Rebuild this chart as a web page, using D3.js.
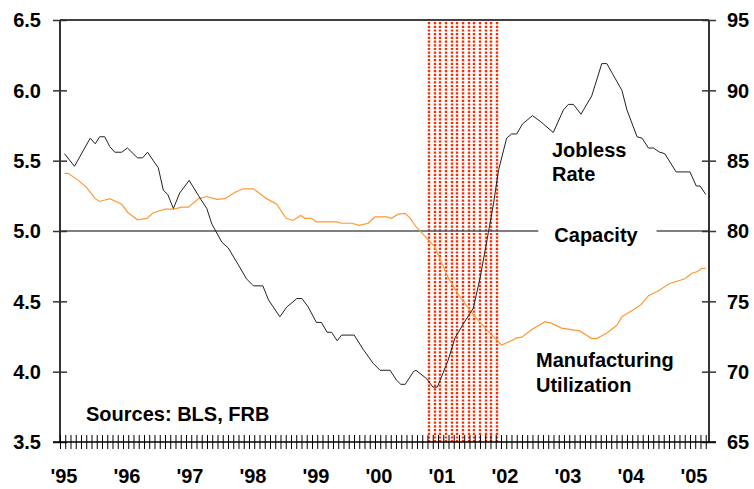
<!DOCTYPE html>
<html><head><meta charset="utf-8">
<script src="https://cdn.jsdelivr.net/npm/d3@7/dist/d3.min.js"></script>
<style>
body{margin:0;background:#fff}
text{font-family:"Liberation Sans",Arial,Helvetica,sans-serif;font-weight:bold;fill:#000}
</style>
</head><body>
<svg id="chart" width="754" height="489"></svg>
<script>
// ---- Data ----
const joblessYears = [1995.07,1995.23,1995.48,1995.56,1995.63,1995.71,1995.79,1995.87,1995.98,1996.07,1996.23,1996.31,1996.39,1996.48,1996.56,1996.64,1996.71,1996.80,1996.90,1997.05,1997.20,1997.33,1997.41,1997.57,1997.67,1997.83,1997.96,1998.07,1998.22,1998.31,1998.49,1998.60,1998.76,1998.84,1998.94,1999.07,1999.15,1999.24,1999.31,1999.40,1999.47,1999.67,1999.81,1999.97,2000.08,2000.24,2000.34,2000.41,2000.48,2000.61,2000.65,2000.82,2000.92,2000.99,2001.16,2001.27,2001.43,2001.56,2001.67,2001.80,2001.88,2001.96,2002.09,2002.17,2002.25,2002.34,2002.50,2002.65,2002.83,2002.99,2003.07,2003.15,2003.27,2003.44,2003.60,2003.68,2003.78,2003.92,2004.00,2004.16,2004.24,2004.34,2004.42,2004.52,2004.60,2004.78,2005.00,2005.10,2005.16,2005.25];
const joblessRate = [5.55,5.46,5.66,5.62,5.67,5.67,5.60,5.56,5.56,5.59,5.52,5.52,5.56,5.50,5.45,5.29,5.26,5.16,5.27,5.36,5.25,5.16,5.05,4.92,4.88,4.76,4.66,4.61,4.61,4.51,4.39,4.46,4.52,4.52,4.46,4.35,4.35,4.28,4.28,4.22,4.26,4.26,4.16,4.06,4.01,4.01,3.94,3.91,3.91,4.00,4.01,3.95,3.89,3.89,4.08,4.24,4.36,4.45,4.67,4.99,5.19,5.43,5.66,5.69,5.69,5.76,5.82,5.77,5.70,5.86,5.90,5.90,5.83,5.96,6.19,6.19,6.11,6.00,5.86,5.67,5.66,5.59,5.59,5.56,5.55,5.42,5.42,5.32,5.32,5.26];

const utilYears = [1995.07,1995.13,1995.29,1995.42,1995.56,1995.63,1995.79,1995.98,1996.08,1996.23,1996.38,1996.48,1996.67,1996.81,1996.93,1997.04,1997.20,1997.33,1997.49,1997.62,1997.78,1997.91,1998.07,1998.28,1998.44,1998.59,1998.70,1998.82,1998.89,1998.99,1999.07,1999.39,1999.47,1999.63,1999.75,1999.89,2000.00,2000.19,2000.26,2000.37,2000.48,2000.56,2000.66,2000.82,2000.95,2001.16,2001.32,2001.56,2001.75,2002.01,2002.14,2002.25,2002.33,2002.49,2002.70,2002.80,2002.96,2003.25,2003.44,2003.52,2003.68,2003.84,2003.92,2004.10,2004.23,2004.34,2004.50,2004.67,2004.92,2005.03,2005.11,2005.19,2005.25];
const mfgUtilization = [84.1,84.1,83.6,83.1,82.3,82.1,82.3,81.9,81.3,80.8,80.9,81.3,81.55,81.55,81.7,81.7,82.3,82.45,82.25,82.3,82.75,83.0,83.0,82.3,81.9,80.9,80.75,81.1,80.9,80.9,80.65,80.65,80.55,80.55,80.4,80.55,81.0,81.0,80.9,81.2,81.25,80.9,80.25,79.5,78.85,76.7,75.5,74.05,73.1,71.9,72.15,72.4,72.45,73.0,73.55,73.45,73.1,72.9,72.35,72.35,72.75,73.3,73.9,74.4,74.8,75.4,75.75,76.25,76.6,77.0,77.1,77.35,77.35];

const capacityLevel = 80;
const recession = [2000.84, 2001.95];
const leftTicks = [3.5,4.0,4.5,5.0,5.5,6.0,6.5];
const leftTickLabels = ["3.5","4.0","4.5","5.0","5.5","6.0","6.5"];
const rightTicks = [65,70,75,80,85,90,95];
const rightTickLabels = ["65","70","75","80","85","90","95"];
const yearTicks = [1995,1996,1997,1998,1999,2000,2001,2002,2003,2004,2005];
const yearLabels = ["'95","'96","'97","'98","'99","'00","'01","'02","'03","'04","'05"];
const xDomain = [1995, 2005.302];

// ---- Layout ----
const L = 60, R = 709, T = 20, B = 442;
const svg = d3.select("#chart");
const x = d3.scaleLinear().domain(xDomain).range([L, R]);
const yL = d3.scaleLinear().domain([3.5, 6.5]).range([B, T]);
const yR = d3.scaleLinear().domain([65, 95]).range([B, T]);

// recession dotted band: columns of dotted vertical lines
const x0 = x(recession[0]), x1 = x(recession[1]);
const nCols = 13;
const colStep = (x1 - x0 - 2) / (nCols - 1);
const cols = d3.range(nCols).map(i => Math.round(x0 + 1 + i * colStep));
svg.append("g").selectAll("line").data(cols).join("line")
  .attr("x1", d => d).attr("x2", d => d).attr("y1", T + 2).attr("y2", B)
  .attr("stroke", "#ff2a00").attr("stroke-width", 2.4).attr("stroke-dasharray", "2.2 1.5");

// capacity label and line with gap
const capText = svg.append("text").attr("x", 596).attr("y", 242).attr("text-anchor", "middle")
  .style("font-size", "20px").text("Capacity");
const bb = capText.node().getBBox();
const gapL = bb.x - 16, gapR = bb.x + bb.width + 18;
const cy = yR(capacityLevel);
svg.append("line").attr("x1", L).attr("x2", gapL).attr("y1", cy).attr("y2", cy)
  .attr("stroke", "#555").attr("stroke-width", 1.6);
svg.append("line").attr("x1", gapR).attr("x2", R).attr("y1", cy).attr("y2", cy)
  .attr("stroke", "#555").attr("stroke-width", 1.6);

// series
const utilLine = d3.line().x((d, i) => x(utilYears[i])).y(d => yR(d));
svg.append("path").datum(mfgUtilization).attr("d", utilLine)
  .attr("fill", "none").attr("stroke", "#ff9933").attr("stroke-width", 1.2);
const jobLine = d3.line().x((d, i) => x(joblessYears[i])).y(d => yL(d));
svg.append("path").datum(joblessRate).attr("d", jobLine)
  .attr("fill", "none").attr("stroke", "#222").attr("stroke-width", 1);

// frame
svg.append("line").attr("x1", L).attr("x2", R).attr("y1", T).attr("y2", T).attr("stroke", "#000").attr("stroke-width", 1.4);
svg.append("line").attr("x1", L).attr("x2", L).attr("y1", T).attr("y2", B).attr("stroke", "#000").attr("stroke-width", 1.6);
svg.append("line").attr("x1", R).attr("x2", R).attr("y1", T).attr("y2", B).attr("stroke", "#000").attr("stroke-width", 1.6);

// left axis
const gL = svg.append("g").attr("transform", `translate(${L},0)`)
  .call(d3.axisLeft(yL).tickValues(leftTicks).tickSizeInner(7).tickSizeOuter(0).tickPadding(12)
    .tickFormat((d, i) => leftTickLabels[i]));
gL.select(".domain").remove();
gL.selectAll(".tick line").attr("x2", 7).attr("x1", -7).attr("stroke", "#333").attr("stroke-width", 1.5);
gL.selectAll(".tick text").style("font-size", "20px").attr("x", -19).attr("dy", "0.34em");

// right axis
const gR = svg.append("g").attr("transform", `translate(${R},0)`)
  .call(d3.axisRight(yR).tickValues(rightTicks).tickSizeOuter(0)
    .tickFormat((d, i) => rightTickLabels[i]));
gR.select(".domain").remove();
gR.selectAll(".tick line").attr("x1", -7).attr("x2", 7).attr("stroke", "#333").attr("stroke-width", 1.5);
gR.selectAll(".tick text").style("font-size", "20px").attr("x", 18).attr("dy", "0.34em");
svg.selectAll(".tick text").attr("font-family", null);

// bottom axis with monthly ticks
const months = d3.range(0, Math.floor((xDomain[1] - xDomain[0]) * 12) + 1).map(m => xDomain[0] + m / 12);
const gB = svg.append("g").attr("transform", `translate(0,${B})`)
  .call(d3.axisBottom(x).tickValues(months).tickSizeInner(7).tickSizeOuter(0).tickFormat(""));
gB.select(".domain").remove();
gB.selectAll(".tick line").attr("y1", -7).attr("y2", 7).attr("stroke", "#000").attr("stroke-width", 1);
svg.append("line").attr("x1", L - 7).attr("x2", R + 7).attr("y1", B).attr("y2", B).attr("stroke", "#000").attr("stroke-width", 1.4);

svg.append("g").selectAll("text").data(yearTicks).join("text")
  .attr("x", d => x(d) + 4).attr("y", 483).attr("text-anchor", "middle")
  .style("font-size", "20px").text((d, i) => yearLabels[i]);

// annotations
const ann = [
  ["Jobless", 552, 157], ["Rate", 552, 181],
  ["Manufacturing", 536, 367], ["Utilization", 536, 392],
  ["Sources: BLS, FRB", 86, 421]
];
svg.append("g").selectAll("text").data(ann).join("text")
  .attr("x", d => d[1]).attr("y", d => d[2]).style("font-size", "20px").text(d => d[0]);
</script>
</body></html>
